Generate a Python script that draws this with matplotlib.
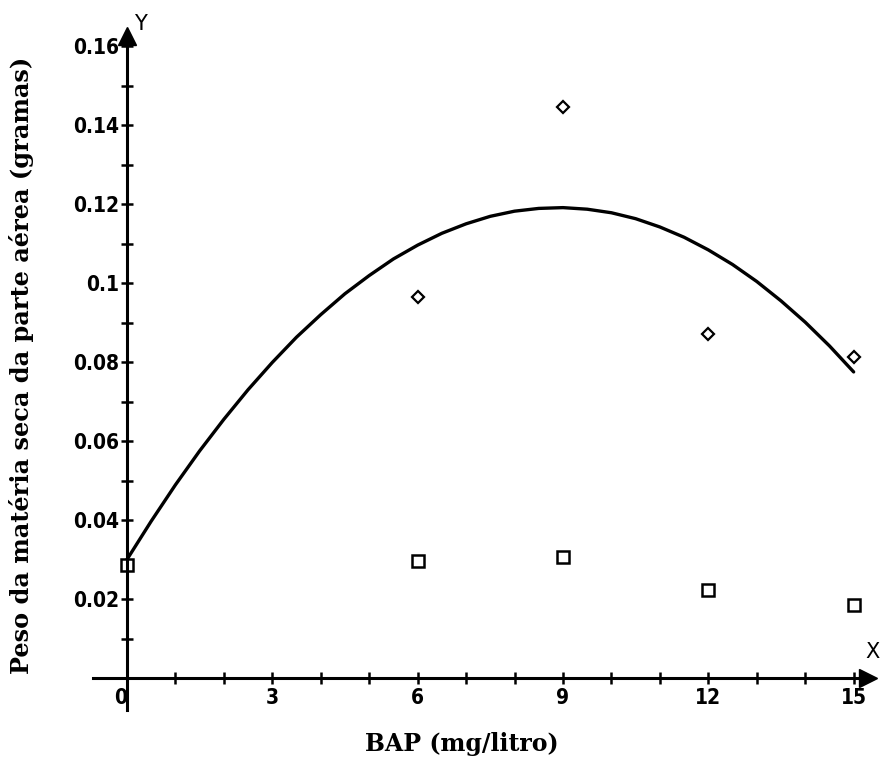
import matplotlib
matplotlib.use("Agg")
import matplotlib.pyplot as plt
from matplotlib.ticker import MultipleLocator, FixedLocator

# Data
diamond_x = [6, 9, 12, 15]
diamond_y = [0.0965, 0.1446, 0.0871, 0.0813]
square_x = [0, 6, 9, 12, 15]
square_y = [0.0286, 0.0296, 0.0306, 0.0223, 0.0185]
curve_x = [0, 0.5, 1, 1.5, 2, 2.5, 3, 3.5, 4, 4.5, 5, 5.5, 6, 6.5, 7, 7.5,
           8, 8.5, 9, 9.5, 10, 10.5, 11, 11.5, 12, 12.5, 13, 13.5, 14, 14.5, 15]
curve_y = [0.0300, 0.0397, 0.0489, 0.0575, 0.0655, 0.0730, 0.0799, 0.0863,
           0.0920, 0.0973, 0.1019, 0.1061, 0.1096, 0.1126, 0.1150, 0.1169,
           0.1182, 0.1189, 0.1191, 0.1187, 0.1178, 0.1163, 0.1142, 0.1116,
           0.1084, 0.1047, 0.1004, 0.0955, 0.0901, 0.0841, 0.0775]
x_ticks = [0, 3, 6, 9, 12, 15]
y_ticks = [0.02, 0.04, 0.06, 0.08, 0.10, 0.12, 0.14, 0.16]
y_tick_labels = ["0.02", "0.04", "0.06", "0.08", "0.1", "0.12", "0.14", "0.16"]

tick_font = ["DejaVu Sans"]
label_font = ["DejaVu Serif"]

fig = plt.figure(figsize=(8.81, 7.69), dpi=100)
ax = fig.add_axes([0.1056, 0.0772, 0.8936, 0.9014])
ax.set_xlim(-0.7, 15.55)
ax.set_ylim(-0.008, 0.1675)

ax.plot(curve_x, curve_y, color="black", lw=2.4, solid_capstyle="round",
        solid_joinstyle="round")
ax.plot(diamond_x, diamond_y, ls="none", marker="D", ms=6.5, mfc="white",
        mec="black", mew=1.6)
ax.plot(square_x, square_y, ls="none", marker="s", ms=9, mfc="white",
        mec="black", mew=1.8)

for s in ["top", "right"]:
    ax.spines[s].set_visible(False)
ax.spines["left"].set_position(("data", 0))
ax.spines["bottom"].set_position(("data", 0))
ax.spines["left"].set_linewidth(2.2)
ax.spines["bottom"].set_linewidth(2.2)
ax.spines["left"].set_bounds(-0.008, 0.163)
ax.spines["bottom"].set_bounds(-0.7, 15.3)

# arrow heads
ax.plot([0], [0.1625], marker="^", ms=13, color="black", clip_on=False)
ax.plot([15.3], [0], marker=">", ms=13, color="black", clip_on=False)
ax.text(0.15, 0.1655, "Y", fontsize=15, family=tick_font, ha="left", va="center")
ax.text(15.25, 0.0065, "X", fontsize=15, family=tick_font, ha="left", va="center")

ax.yaxis.set_major_locator(FixedLocator(y_ticks))
ax.set_yticklabels(y_tick_labels)
ax.yaxis.set_minor_locator(MultipleLocator(0.01))
ax.xaxis.set_major_locator(FixedLocator(x_ticks))
ax.set_xticklabels([str(v) for v in x_ticks])
ax.xaxis.set_minor_locator(MultipleLocator(1))
ax.tick_params(which="both", direction="inout", length=9, width=1.8)
ax.tick_params(axis="y", pad=1)
ax.tick_params(axis="x", pad=3)
for lab in ax.get_yticklabels() + ax.get_xticklabels():
    lab.set_family(tick_font)
    lab.set_fontsize(15)
    lab.set_fontweight("bold")
    lab.set_fontstretch("condensed")
ax.get_xticklabels()[0].set_horizontalalignment("right")

fig.text(0.024, 0.525, "Peso da matéria seca da parte aérea (gramas)", rotation=90,
         ha="center", va="center", fontsize=17.3, fontweight="bold", family=label_font)
fig.text(0.524, 0.032, "BAP (mg/litro)", ha="center", va="center", fontsize=17,
         fontweight="bold", family=label_font)

fig.savefig("out.png", dpi=100)
